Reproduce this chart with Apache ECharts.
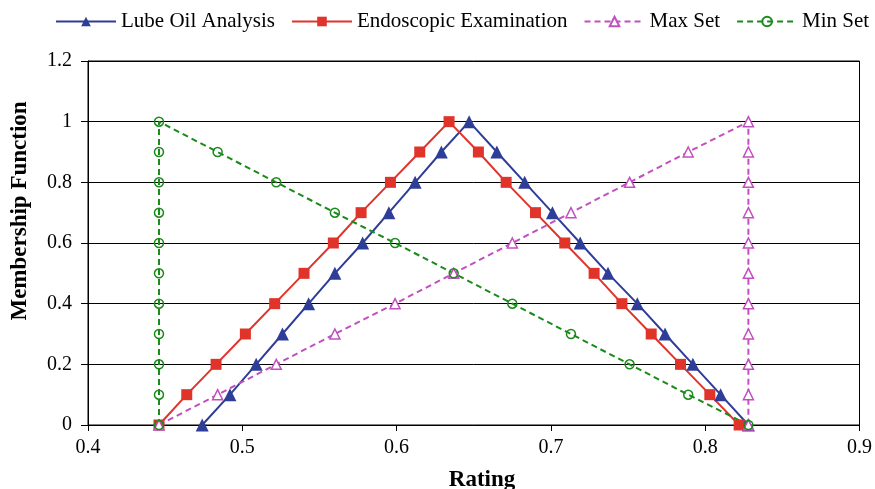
<!DOCTYPE html>
<html>
<head>
<meta charset="utf-8">
<script src="https://cdn.jsdelivr.net/npm/echarts@6/dist/echarts.min.js"></script>
<style>
  html, body { margin: 0; padding: 0; background: #fff; }
  #chart { width: 875px; height: 489px; }
</style>
</head>
<body>
<div id="chart"></div>
<script>
// membership functions vs rating
let lubeX = [0.474, 0.492, 0.509, 0.526, 0.543, 0.560, 0.578, 0.595, 0.612, 0.629, 0.647,
             0.665, 0.683, 0.701, 0.719, 0.737, 0.756, 0.774, 0.792, 0.810, 0.828];
let lubeY = [0, 0.1, 0.2, 0.3, 0.4, 0.5, 0.6, 0.7, 0.8, 0.9, 1,
             0.9, 0.8, 0.7, 0.6, 0.5, 0.4, 0.3, 0.2, 0.1, 0];

let endoX = [0.446, 0.464, 0.483, 0.502, 0.521, 0.540, 0.559, 0.577, 0.596, 0.615, 0.634,
             0.653, 0.671, 0.690, 0.709, 0.728, 0.746, 0.765, 0.784, 0.803, 0.822];
let endoY = [0, 0.1, 0.2, 0.3, 0.4, 0.5, 0.6, 0.7, 0.8, 0.9, 1,
             0.9, 0.8, 0.7, 0.6, 0.5, 0.4, 0.3, 0.2, 0.1, 0];

let maxX = [0.446, 0.484, 0.522, 0.560, 0.599, 0.637, 0.675, 0.713, 0.751, 0.789, 0.828,
            0.828, 0.828, 0.828, 0.828, 0.828, 0.828, 0.828, 0.828, 0.828, 0.828];
let maxY = [0, 0.1, 0.2, 0.3, 0.4, 0.5, 0.6, 0.7, 0.8, 0.9, 1,
            0.9, 0.8, 0.7, 0.6, 0.5, 0.4, 0.3, 0.2, 0.1, 0];

let minX = [0.446, 0.446, 0.446, 0.446, 0.446, 0.446, 0.446, 0.446, 0.446, 0.446, 0.446,
            0.484, 0.522, 0.560, 0.599, 0.637, 0.675, 0.713, 0.751, 0.789, 0.828];
let minY = [0, 0.1, 0.2, 0.3, 0.4, 0.5, 0.6, 0.7, 0.8, 0.9, 1,
            0.9, 0.8, 0.7, 0.6, 0.5, 0.4, 0.3, 0.2, 0.1, 0];

let seriesNames = ['Lube Oil Analysis', 'Endoscopic Examination', 'Max Set', 'Min Set'];

const FONT = "'Liberation Serif', 'Times New Roman', serif";

function pairs(xs, ys) {
    return xs.map((x, i) => [x, ys[i]]);
}

let chart = echarts.init(document.getElementById('chart'), null, { renderer: 'canvas' });

let option = {
    backgroundColor: '#fff',
    animation: false,
    textStyle: { fontFamily: FONT, color: '#000' },
    legend: {
        data: seriesNames,
        left: 50,
        top: 6,
        width: 825,
        itemWidth: 60,
        itemHeight: 12,
        itemGap: 16,
        textStyle: { fontFamily: FONT, fontSize: 21, color: '#000' }
    },
    grid: {
        left: 88, right: 14, top: 61, bottom: 64,
        show: true,
        borderColor: '#000',
        borderWidth: 1
    },
    xAxis: {
        type: 'value',
        min: 0.4, max: 0.9, interval: 0.1,
        axisLine: { lineStyle: { color: '#000', width: 1 } },
        axisTick: { inside: false, length: 6, lineStyle: { color: '#000' } },
        axisLabel: {
            margin: 13, fontSize: 20, fontFamily: FONT, color: '#000',
            formatter: v => v.toFixed(1)
        },
        splitLine: { show: false }
    },
    yAxis: {
        type: 'value',
        min: 0, max: 1.2, interval: 0.2,
        axisLine: { show: true, lineStyle: { color: '#000', width: 1 } },
        axisTick: { show: true, inside: false, length: 7, lineStyle: { color: '#000' } },
        axisLabel: {
            margin: 16, fontSize: 20, fontFamily: FONT, color: '#000',
            formatter: v => String(Math.round(v * 10) / 10)
        },
        splitLine: { show: true, lineStyle: { color: '#000', width: 1 } }
    },
    graphic: [
        {
            type: 'text',
            x: 20, y: 211,
            rotation: Math.PI / 2,
            style: {
                text: 'Membership Function',
                font: 'bold 23px ' + FONT,
                fill: '#000',
                align: 'center',
                verticalAlign: 'middle'
            }
        },
        {
            type: 'text',
            x: 482, y: 480,
            style: {
                text: 'Rating',
                font: 'bold 23px ' + FONT,
                fill: '#000',
                align: 'center',
                verticalAlign: 'middle'
            }
        }
    ],
    series: [
        {
            name: seriesNames[0],
            type: 'line',
            data: pairs(lubeX, lubeY),
            color: '#2e3d98',
            symbol: 'triangle',
            symbolSize: 13,
            lineStyle: { width: 2, color: '#2e3d98' },
            itemStyle: { color: '#2e3d98' }
        },
        {
            name: seriesNames[1],
            type: 'line',
            data: pairs(endoX, endoY),
            color: '#e0332a',
            symbol: 'rect',
            symbolSize: 11,
            lineStyle: { width: 2, color: '#e0332a' },
            itemStyle: { color: '#e0332a' }
        },
        {
            name: seriesNames[2],
            type: 'line',
            data: pairs(maxX, maxY),
            color: '#c24fbf',
            symbol: 'triangle',
            symbolSize: 10,
            lineStyle: { width: 2, color: '#c24fbf', type: [6, 4] },
            itemStyle: { color: '#fff', borderColor: '#c24fbf', borderWidth: 1.5 }
        },
        {
            name: seriesNames[3],
            type: 'line',
            data: pairs(minX, minY),
            color: '#1a8a1a',
            symbol: 'circle',
            symbolSize: 9,
            lineStyle: { width: 2, color: '#1a8a1a', type: [6, 4] },
            itemStyle: { color: 'rgba(255,255,255,0)', borderColor: '#1a8a1a', borderWidth: 1.5 }
        }
    ]
};

chart.setOption(option);
</script>
</body>
</html>
